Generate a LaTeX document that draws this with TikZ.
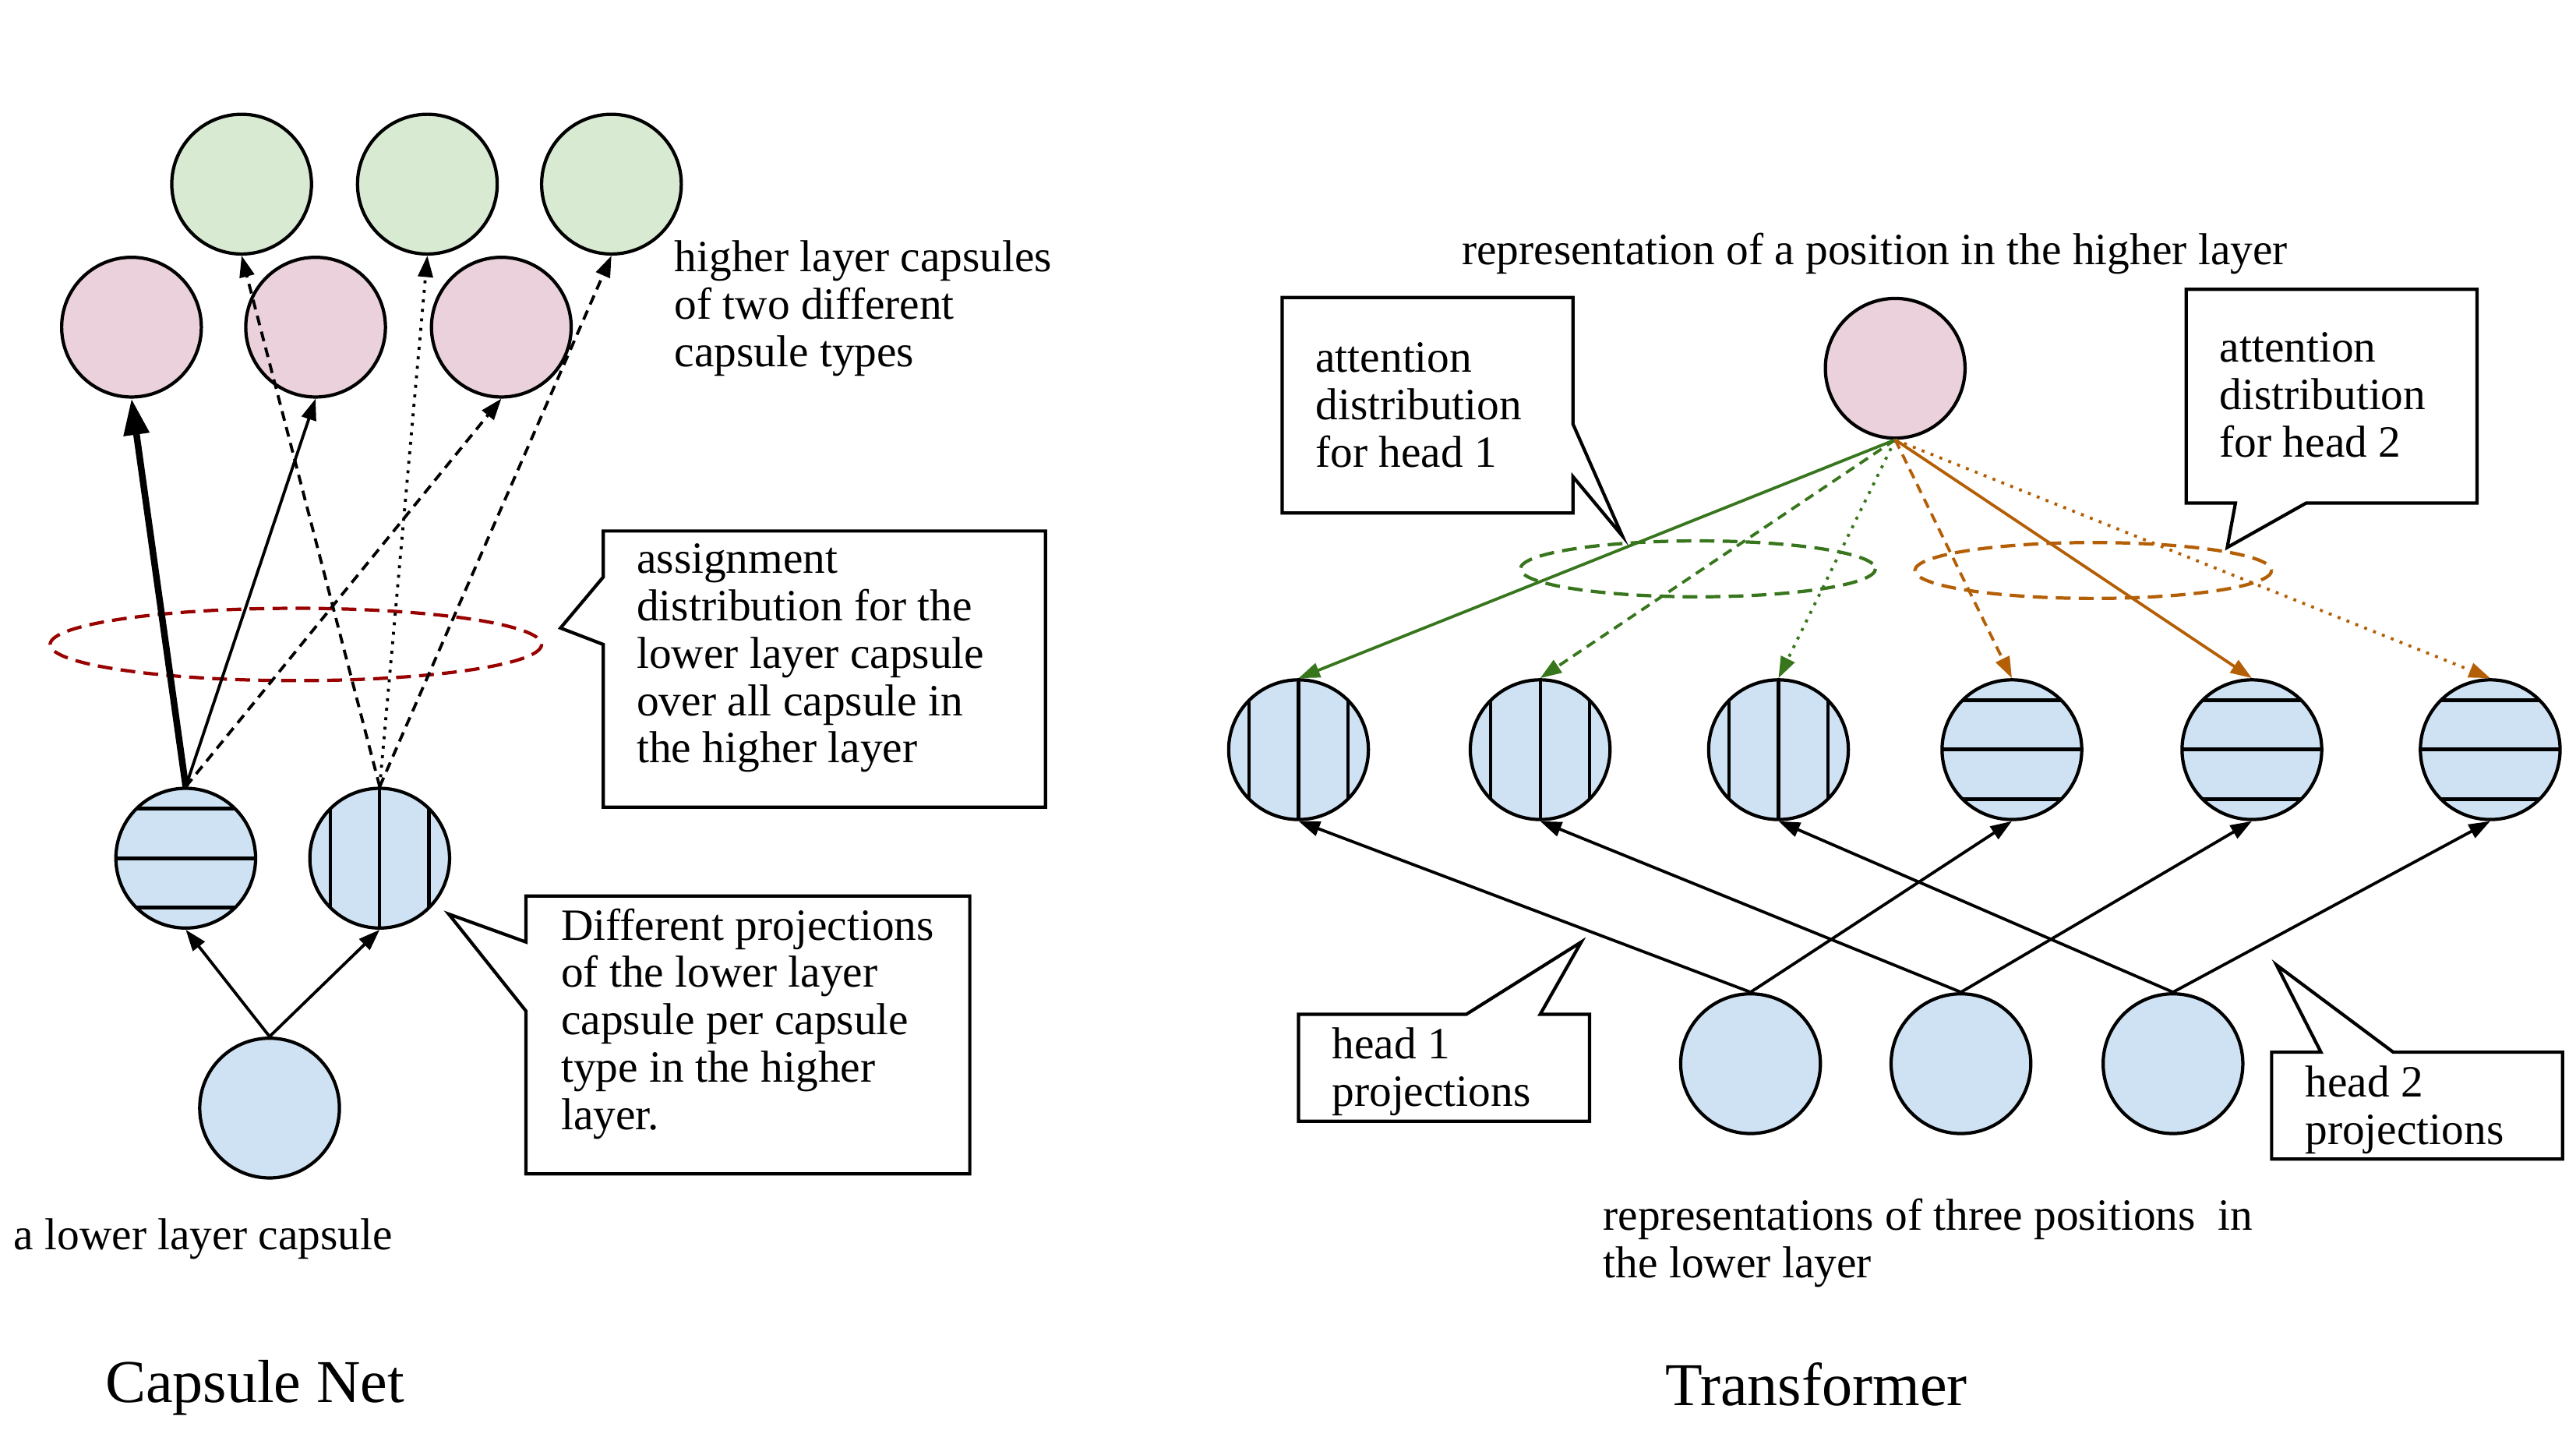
\documentclass[tikz,border=0pt]{standalone}
\usepackage{fontspec}
\setmainfont{Liberation Serif}
\usepackage{tikz}
\usetikzlibrary{arrows.meta}
\definecolor{verdeclaro}{HTML}{D9EAD3}
\definecolor{rosaclaro}{HTML}{EAD1DC}
\definecolor{azulclaro}{HTML}{CFE2F3}
\definecolor{vermelho}{HTML}{990000}
\definecolor{verde}{HTML}{38761D}
\definecolor{laranja}{HTML}{B45F06}

\begin{document}
\begin{tikzpicture}[x=0.5pt, y=-0.5pt,
    capsula/.style={circle, draw, line width=1pt, inner sep=0pt, minimum size=42.5pt},
    capverde/.style={capsula, fill=verdeclaro},
    caprosa/.style={capsula, fill=rosaclaro},
    capazul/.style={capsula, fill=azulclaro},
    horiz/.style={capazul, path picture={
        \draw[line width=1.2pt] ([yshift=15pt]path picture bounding box.west) -- ([yshift=15pt]path picture bounding box.east);
        \draw[line width=1.2pt] (path picture bounding box.west) -- (path picture bounding box.east);
        \draw[line width=1.2pt] ([yshift=-15pt]path picture bounding box.west) -- ([yshift=-15pt]path picture bounding box.east);}},
    vert/.style={capazul, path picture={
        \draw[line width=1pt] ([xshift=-15pt]path picture bounding box.north) -- ([xshift=-15pt]path picture bounding box.south);
        \draw[line width=1pt] (path picture bounding box.north) -- (path picture bounding box.south);
        \draw[line width=1pt] ([xshift=15pt]path picture bounding box.north) -- ([xshift=15pt]path picture bounding box.south);}},
    seta/.style={-{Triangle[length=6.5pt, width=4.5pt]}, line width=0.9pt},
    tracejado/.style={dash pattern=on 3pt off 2pt},
    pontilhado/.style={dash pattern=on 0.9pt off 2pt},
    distrib/.style={line width=1pt, dash pattern=on 4.5pt off 2.5pt},
    caixa/.style={draw, line width=1pt, fill=white, line join=miter},
    % ancorado na linha de base da ultima linha
    texto/.style={font=\fontsize{13.6}{14.4}\selectfont, align=left, inner sep=0pt, anchor=base west},
    titulo/.style={font=\fontsize{18.5}{22}\selectfont, inner sep=0pt, anchor=base}]

    \useasboundingbox (0,0) rectangle (1567.2,885);

    % ---------------- capsule net ----------------
    % capsulas da camada superior
    \foreach \x [count=\i] in {147,260,372}
        \node[capverde] (g\i) at (\x,112) {};
    \foreach \x [count=\i] in {80,192,305}
        \node[caprosa] (r\i) at (\x,199) {};

    % projecoes e capsula inferior
    \node[horiz] (ph) at (113,522) {};
    \node[vert] (pv) at (231,522) {};
    \node[capazul] (inf) at (164,674) {};

    % distribuicao
    \draw[distrib, vermelho] (180,392) ellipse [x radius=149.5, y radius=22];

    % ligacoes
    \draw[-{Triangle[length=11pt, width=7.5pt]}, line width=2pt] (ph.north) -- (r1.south);
    \draw[seta] (ph.north) -- (r2.south);
    \draw[seta, tracejado] (ph.north) -- (r3.south);
    \draw[seta, tracejado] (pv.north) -- (g1.south);
    \draw[seta, pontilhado] (pv.north) -- (g2.south);
    \draw[seta, tracejado] (pv.north) -- (g3.south);
    \draw[seta] (inf.north) -- (ph.south);
    \draw[seta] (inf.north) -- (pv.south);

    % balões
    \draw[caixa] (367,323) -- (636,323) -- (636,491) -- (367,491) -- (367,392) -- (341,382) -- (367,351) -- cycle;
    \draw[caixa] (320,545) -- (590,545) -- (590,714) -- (320,714) -- (320,615) -- (273,556) -- (320,573) -- cycle;

    % rótulos
    \node[texto] (tsup) at (410,223) {higher layer capsules\\of two different\\capsule types};
    \node[texto] (tatr) at (387,464) {assignment\\distribution for the\\lower layer capsule\\over all capsule in\\the higher layer};
    \node[texto] (tproj) at (341,687) {Different projections\\of the lower layer\\capsule per capsule\\type in the higher\\layer.};
    \node[texto] (tinf) at (8,760) {a lower layer capsule};
    \node[titulo] (tcap) at (155,853) {Capsule Net};

    % ---------------- transformer ----------------
    \node[caprosa] (topo) at (1153,224) {};
    \foreach \x [count=\i] in {790,937,1082}
        \node[vert] (p\i) at (\x,456) {};
    \foreach \x [count=\i from 4] in {1224,1370,1515}
        \node[horiz] (p\i) at (\x,456) {};
    \foreach \x [count=\i] in {1065,1193,1322}
        \node[capazul] (b\i) at (\x,647) {};

    % distribuicoes de atencao
    \draw[distrib, verde] (1033,346) ellipse [x radius=108, y radius=17];
    \draw[distrib, laranja] (1273.5,347) ellipse [x radius=108.5, y radius=17];

    % ligacoes de atencao
    \draw[seta, verde] (topo.south) -- (p1.north);
    \draw[seta, verde, tracejado] (topo.south) -- (p2.north);
    \draw[seta, verde, pontilhado] (topo.south) -- (p3.north);
    \draw[seta, laranja, tracejado] (topo.south) -- (p4.north);
    \draw[seta, laranja] (topo.south) -- (p5.north);
    \draw[seta, laranja, pontilhado] (topo.south) -- (p6.north);

    % projecoes
    \foreach \i [evaluate=\i as \j using int(\i+3)] in {1,2,3} {
        \draw[seta] (b\i.north) -- (p\i.south);
        \draw[seta] (b\i.north) -- (p\j.south);
    }

    % balões
    \draw[caixa] (780,181) -- (957,181) -- (957,258) -- (987,326) -- (957,290) -- (957,312) -- (780,312) -- cycle;
    \draw[caixa] (1330,176) -- (1507,176) -- (1507,306) -- (1403,306) -- (1355,333) -- (1360,306) -- (1330,306) -- cycle;
    \draw[caixa] (790,617) -- (892,617) -- (962,573) -- (937,617) -- (967,617) -- (967,682) -- (790,682) -- cycle;
    \draw[caixa] (1382,640) -- (1412,640) -- (1385,587) -- (1456,640) -- (1559,640) -- (1559,705) -- (1382,705) -- cycle;

    % rótulos
    \node[texto] (trep) at (889,161) {representation of a position in the higher layer};
    \node[texto] (tat1) at (800,284) {attention\\distribution\\for head 1};
    \node[texto] (tat2) at (1350,278) {attention\\distribution\\for head 2};
    \node[texto] (th1) at (810,673) {head 1\\projections};
    \node[texto] (th2) at (1402,696) {head 2\\projections};
    \node[texto] (ttres) at (975,777) {representations of three positions~ in\\the lower layer};
    \node[titulo] (ttrans) at (1105,855) {Transformer};
\end{tikzpicture}
\end{document}
